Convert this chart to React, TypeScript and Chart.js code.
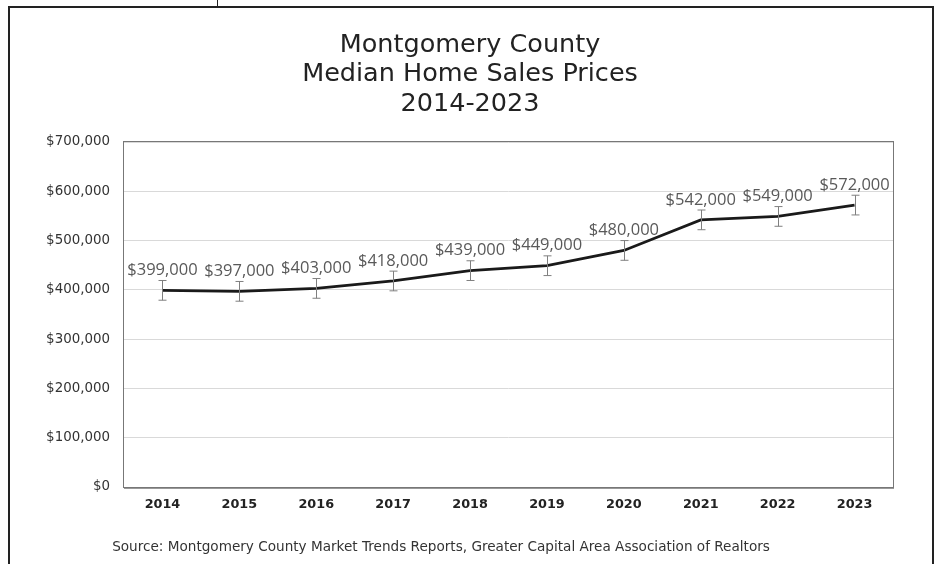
import React, { useEffect, useRef } from "react";
import { Chart, registerables } from "chart.js";

Chart.register(...registerables);

const years = ["2014", "2015", "2016", "2017", "2018", "2019", "2020", "2021", "2022", "2023"];
const medianPrices = [399000, 397000, 403000, 418000, 439000, 449000, 480000, 542000, 549000, 572000];
const errorAmounts = [20000, 20000, 20000, 20000, 20000, 20000, 20000, 20000, 20000, 20000];
const titleLines = ["Montgomery County", "Median Home Sales Prices", "2014-2023"];
const sourceText = "Source: Montgomery County Market Trends Reports, Greater Capital Area Association of Realtors";

const fmt = (v: number) => "$" + Math.round(v).toLocaleString("en-US");

const framePlugin = {
  id: "frame",
  beforeDraw(chart: any) {
    const ctx = chart.ctx;
    ctx.save();
    ctx.fillStyle = "#ffffff";
    ctx.fillRect(0, 0, chart.width, chart.height);
    ctx.restore();
  },
  afterDraw(chart: any) {
    const ctx = chart.ctx;
    const { left, right, top, bottom } = chart.chartArea;
    ctx.save();
    // outer frame
    ctx.strokeStyle = "#222222";
    ctx.lineWidth = 2;
    ctx.beginPath();
    ctx.moveTo(9, chart.height);
    ctx.lineTo(9, 7);
    ctx.lineTo(933, 7);
    ctx.lineTo(933, chart.height);
    ctx.stroke();
    ctx.lineWidth = 1;
    ctx.beginPath();
    ctx.moveTo(217.5, 0);
    ctx.lineTo(217.5, 7);
    ctx.stroke();
    // plot area border
    ctx.strokeStyle = "#777777";
    ctx.lineWidth = 1;
    ctx.strokeRect(Math.round(left) - 0.5, Math.round(top) - 0.5, Math.round(right - left) + 1, Math.round(bottom - top) + 1);
    ctx.strokeStyle = "#999999";
    ctx.beginPath();
    ctx.moveTo(left, Math.round(bottom) + 1.5);
    ctx.lineTo(right + 1, Math.round(bottom) + 1.5);
    ctx.stroke();
    // title
    ctx.fillStyle = "#222222";
    ctx.font = "25.5px 'DejaVu Sans'";
    ctx.textAlign = "center";
    ctx.textBaseline = "middle";
    titleLines.forEach((t, i) => ctx.fillText(t, 470, 45 + i * 29.5));
    // source
    ctx.fillStyle = "#333333";
    ctx.font = "13.6px 'DejaVu Sans'";
    ctx.fillText(sourceText, 441, 547);
    ctx.restore();
  },
};

const errorBarPlugin = {
  id: "errorBars",
  afterDatasetsDraw(chart: any) {
    const ctx = chart.ctx;
    const xs = chart.scales.x;
    const ys = chart.scales.y;
    ctx.save();
    ctx.strokeStyle = "#7f7f7f";
    ctx.lineWidth = 1;
    medianPrices.forEach((v, i) => {
      const x = Math.round(xs.getPixelForValue(i)) + 0.5;
      const y1 = ys.getPixelForValue(v + errorAmounts[i]);
      const y2 = ys.getPixelForValue(v - errorAmounts[i]);
      ctx.beginPath();
      ctx.moveTo(x, y1);
      ctx.lineTo(x, y2);
      ctx.moveTo(x - 4, y1);
      ctx.lineTo(x + 4, y1);
      ctx.moveTo(x - 4, y2);
      ctx.lineTo(x + 4, y2);
      ctx.stroke();
    });
    ctx.fillStyle = "#595959";
    ctx.font = "16.5px 'Open Sans'";
    ctx.textAlign = "center";
    ctx.textBaseline = "middle";
    medianPrices.forEach((v, i) => {
      const x = xs.getPixelForValue(i);
      const y = ys.getPixelForValue(v);
      ctx.fillText(fmt(v), x, y - 20);
    });
    ctx.restore();
  },
};

export default function App() {
  const ref = useRef<HTMLCanvasElement | null>(null);
  useEffect(() => {
    if (!ref.current) return;
    const chart = new Chart(ref.current, {
      type: "line",
      data: {
        labels: years,
        datasets: [
          {
            label: "Median Home Sales Price",
            data: medianPrices,
            borderColor: "#1a1a1a",
            borderWidth: 2.75,
            pointRadius: 0,
            tension: 0,
            fill: false,
          },
        ],
      },
      options: {
        responsive: false,
        animation: false,
        layout: { padding: { left: 10, right: 47, top: 142, bottom: 0 } },
        plugins: {
          legend: { display: false },
          tooltip: { enabled: false },
          title: { display: false },
        },
        scales: {
          x: {
            offset: true,
            grid: { display: false, drawTicks: false },
            border: { display: false },
            ticks: {
              color: "#222222",
              font: { family: "'DejaVu Sans'", size: 12.8, weight: "bold" },
              padding: 10,
              maxRotation: 0,
            },
            afterFit: (s: any) => {
              s.height = 77;
            },
          },
          y: {
            min: 0,
            max: 700000,
            grid: { color: "#d9d9d9", drawTicks: false },
            border: { display: false },
            ticks: {
              stepSize: 100000,
              color: "#333333",
              font: { family: "'DejaVu Sans'", size: 13.4 },
              padding: 14,
              callback: (v: any) => fmt(Number(v)),
            },
            afterFit: (s: any) => {
              s.width = 114;
            },
          },
        },
      },
      plugins: [framePlugin, errorBarPlugin],
    });
    return () => chart.destroy();
  }, []);
  return (
    <div style={{ position: "fixed", left: 0, top: 0, width: 940, height: 564, background: "#fff" }}>
      <canvas ref={ref} width={940} height={564} style={{ display: "block" }} />
    </div>
  );
}
